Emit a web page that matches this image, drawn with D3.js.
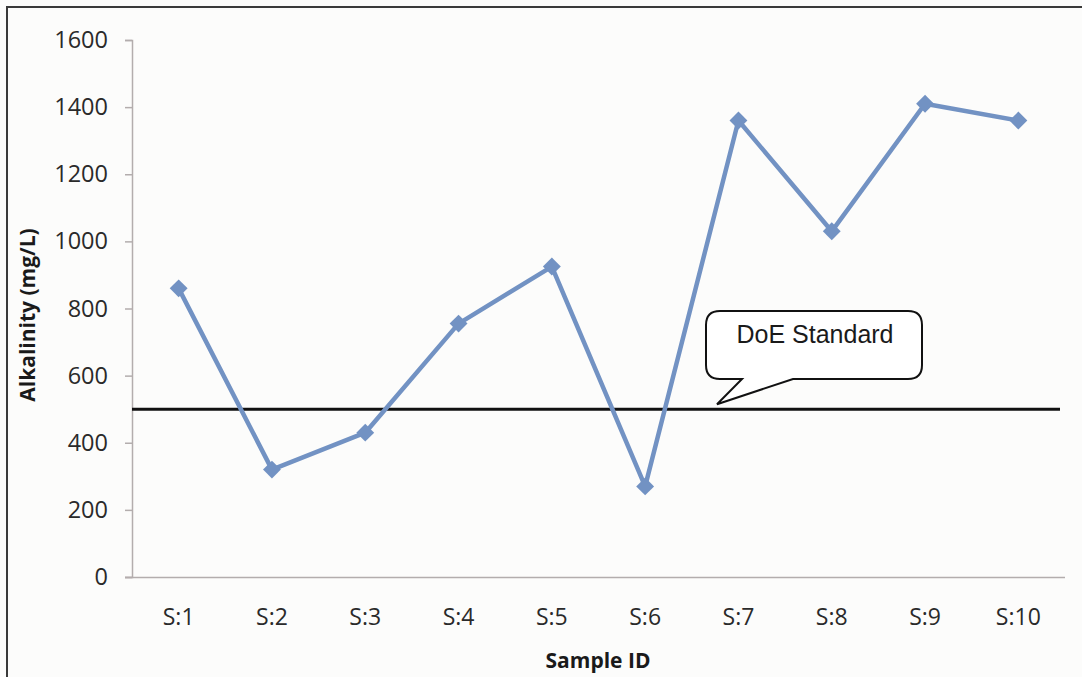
<!DOCTYPE html>
<html>
<head>
<meta charset="utf-8">
<script src="https://cdn.jsdelivr.net/npm/d3@7"></script>
<style>
  html, body { margin: 0; padding: 0; background: #fcfcfb; }
  svg { display: block; }
</style>
</head>
<body>
<svg id="chart" width="1082" height="677"></svg>
<script>
// Alkalinity per sample, with the DoE reference standard
const samples = ["S:1", "S:2", "S:3", "S:4", "S:5", "S:6", "S:7", "S:8", "S:9", "S:10"];
const alkalinity = [860, 320, 430, 755, 925, 270, 1360, 1030, 1410, 1360];
const yTicks = [0, 200, 400, 600, 800, 1000, 1200, 1400, 1600];
const doeStandard = 500;
const doeLabel = "DoE Standard";

const svg = d3.select("#chart");
const W = 1082, H = 677;
const plot = { left: 132, right: 1065, top: 40, bottom: 577 };

// outer frame (top and left edges)
svg.append("rect").attr("x", 0).attr("y", 0).attr("width", W).attr("height", H).attr("fill", "#fcfcfb");
svg.append("path")
  .attr("d", `M7,${H} V7 H${W}`)
  .attr("fill", "none").attr("stroke", "#3a3a3a").attr("stroke-width", 2);

const x = d3.scaleBand().domain(samples).range([plot.left, plot.right]);
const y = d3.scaleLinear().domain([0, 1600]).range([plot.bottom, plot.top]);

const tickFont = "'Open Sans', 'Noto Sans', sans-serif";

// y axis
const yAxis = svg.append("g")
  .attr("transform", `translate(${plot.left},0)`)
  .call(d3.axisLeft(y).tickValues(yTicks).tickSize(7).tickPadding(17).tickFormat(d3.format("d")));
yAxis.select(".domain").attr("stroke", "#b3adad").attr("stroke-width", 1.5);
yAxis.selectAll(".tick line").attr("stroke", "#b3adad").attr("stroke-width", 1.5);
yAxis.selectAll(".tick text")
  .attr("font-family", tickFont).attr("font-size", 23.5).attr("fill", "#2a2a2a");

// x axis
const xAxis = svg.append("g")
  .attr("transform", `translate(0,${plot.bottom})`)
  .call(d3.axisBottom(x).tickSize(0).tickPadding(32));
xAxis.select(".domain").attr("stroke", "#b3adad").attr("stroke-width", 1.5)
  .attr("d", `M${plot.left - 7},0.5H${plot.right}`);
xAxis.selectAll(".tick text")
  .attr("font-family", tickFont).attr("font-size", 23).attr("fill", "#2a2a2a");

// axis titles
svg.append("text")
  .attr("transform", `translate(35,315) rotate(-90)`)
  .attr("text-anchor", "middle")
  .attr("font-family", tickFont).attr("font-weight", "bold").attr("font-size", 21).attr("fill", "#1a1a1a")
  .text("Alkalinity (mg/L)");
svg.append("text")
  .attr("x", 598).attr("y", 668)
  .attr("text-anchor", "middle")
  .attr("font-family", tickFont).attr("font-weight", "bold").attr("font-size", 21).attr("fill", "#1a1a1a")
  .text("Sample ID");

// standard line
svg.append("line")
  .attr("x1", plot.left).attr("x2", 1060)
  .attr("y1", y(doeStandard)).attr("y2", y(doeStandard))
  .attr("stroke", "#111").attr("stroke-width", 3);

// data series
const cx = d => x(d) + x.bandwidth() / 2;
const pts = samples.map((s, i) => [cx(s), y(alkalinity[i])]);
svg.append("path")
  .attr("d", d3.line()(pts))
  .attr("fill", "none").attr("stroke", "#7292c3").attr("stroke-width", 4.5)
  .attr("stroke-linejoin", "round");
svg.selectAll(".marker").data(pts).join("path")
  .attr("class", "marker")
  .attr("transform", d => `translate(${d[0]},${d[1]}) rotate(45)`)
  .attr("d", d3.symbol().type(d3.symbolSquare).size(160))
  .attr("fill", "#7292c3");

// callout for the standard
const box = { x0: 706, y0: 311, x1: 922, y1: 379, r: 14 };
const tail = { a: 742, b: 793, tipX: 717, tipY: y(doeStandard) - 5 };
const p = d3.path();
p.moveTo(box.x0 + box.r, box.y0);
p.lineTo(box.x1 - box.r, box.y0);
p.quadraticCurveTo(box.x1, box.y0, box.x1, box.y0 + box.r);
p.lineTo(box.x1, box.y1 - box.r);
p.quadraticCurveTo(box.x1, box.y1, box.x1 - box.r, box.y1);
p.lineTo(tail.b, box.y1);
p.lineTo(tail.tipX, tail.tipY);
p.lineTo(tail.a, box.y1);
p.lineTo(box.x0 + box.r, box.y1);
p.quadraticCurveTo(box.x0, box.y1, box.x0, box.y1 - box.r);
p.lineTo(box.x0, box.y0 + box.r);
p.quadraticCurveTo(box.x0, box.y0, box.x0 + box.r, box.y0);
p.closePath();
svg.append("path").attr("d", p.toString())
  .attr("fill", "#ffffff").attr("stroke", "#111").attr("stroke-width", 2);
svg.append("text")
  .attr("x", 815).attr("y", 343)
  .attr("text-anchor", "middle")
  .attr("font-family", "'Liberation Sans', Arial, sans-serif").attr("font-size", 25).attr("fill", "#1a1a1a")
  .text(doeLabel);
</script>
</body>
</html>
